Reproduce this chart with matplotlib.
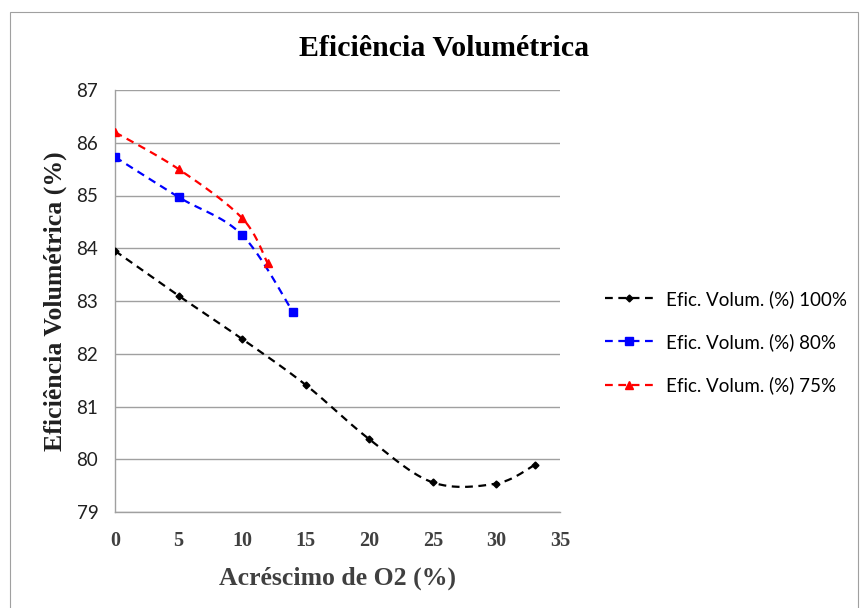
import numpy as np
import matplotlib
matplotlib.use("Agg")
import matplotlib.pyplot as plt
from matplotlib.patches import Rectangle
from matplotlib.lines import Line2D

# O2 addition (%) and volumetric efficiency (%) for each load
x_100 = [0, 5, 10, 15, 20, 25, 30, 33]
y_100 = [83.95, 83.1, 82.28, 81.41, 80.38, 79.56, 79.54, 79.89]
x_80 = [0, 5, 10, 14]
y_80 = [85.73, 84.97, 84.25, 82.79]
x_75 = [0, 5, 10, 12]
y_75 = [86.2, 85.5, 84.57, 83.72]

labels = ["Efic. Volum. (%) 100%", "Efic. Volum. (%) 80%", "Efic. Volum. (%) 75%"]
colors = ["black", "#0000FF", "#FF0000"]
markers = ["D", "s", "^"]
msizes = [3.5, 6, 6]

x_ticks = [0, 5, 10, 15, 20, 25, 30, 35]
y_ticks = [79, 80, 81, 82, 83, 84, 85, 86, 87]


def smooth(xs, ys, n=30):
    """Bezier smoothing through the points (Catmull-Rom control points)."""
    p = np.column_stack([xs, ys]).astype(float)
    out = []
    for i in range(len(p) - 1):
        p0 = p[i - 1] if i > 0 else p[i]
        p1, p2 = p[i], p[i + 1]
        p3 = p[i + 2] if i + 2 < len(p) else p[i + 1]
        c1 = p1 + (p2 - p0) / 6.0
        c2 = p2 - (p3 - p1) / 6.0
        t = np.linspace(0, 1, n)[:, None]
        seg = ((1 - t) ** 3) * p1 + 3 * ((1 - t) ** 2) * t * c1 + 3 * (1 - t) * t ** 2 * c2 + t ** 3 * p2
        out.append(seg if i == 0 else seg[1:])
    s = np.vstack(out)
    return s[:, 0], s[:, 1]


fig = plt.figure(figsize=(8.67, 6.08), dpi=100)
fig.patches.append(Rectangle((10 / 867, -0.01), 848 / 867, 1 - 12 / 608 + 0.01,
                             transform=fig.transFigure, fill=False,
                             edgecolor="#A0A0A0", linewidth=0.8))

ax = fig.add_axes([115 / 867, 1 - 512 / 608, 445 / 867, 422 / 608])

series = [(x_100, y_100), (x_80, y_80), (x_75, y_75)]
handles = []
for (xs, ys), lab, c, m, ms in zip(series, labels, colors, markers, msizes):
    sx, sy = smooth(xs, ys)
    ax.plot(sx, sy, color=c, linestyle=(0, (3.5, 2.5)), linewidth=1.6, zorder=3)
    ax.plot(xs, ys, linestyle="none", marker=m, color=c, markersize=ms, zorder=4)
    handles.append(Line2D([], [], color=c, linestyle=(0, (3.5, 2.5)), linewidth=1.6,
                          marker=m, markersize=ms))

ax.set_xlim(0, 35)
ax.set_ylim(79, 87)
ax.set_xticks(x_ticks)
ax.set_yticks(y_ticks)
ax.yaxis.grid(True, color="#A0A0A0", linewidth=1.0)
ax.set_axisbelow(True)
for s in ["top", "right"]:
    ax.spines[s].set_visible(False)
for s in ["left", "bottom"]:
    ax.spines[s].set_color("#A0A0A0")
    ax.spines[s].set_linewidth(1.0)
ax.tick_params(axis="y", length=0, labelsize=13.5, pad=12, labelcolor="#202020")
ax.tick_params(axis="x", length=0, labelsize=14.5, pad=14)
for t in ax.get_yticklabels():
    t.set_fontfamily("Lato")
for t in ax.get_xticklabels():
    t.set_fontfamily("Liberation Serif")
    t.set_fontweight("bold")
    t.set_color("#404040")

ax.set_xlabel("Acréscimo de O2 (%)", fontfamily="Liberation Serif", fontweight="bold",
              fontsize=18.5, color="#404040", labelpad=11)
ax.set_ylabel("Eficiência Volumétrica (%)", fontfamily="Liberation Serif", fontweight="bold",
              fontsize=18.5, color="#202020", labelpad=7)

fig.text(444 / 867, 1 - 48 / 608, "Eficiência Volumétrica", ha="center", va="center",
         fontfamily="Liberation Serif", fontweight="bold", fontsize=21.5)

fig.legend(handles=handles, labels=labels, loc="center left",
           bbox_to_anchor=(588 / 867, 1 - 342 / 608), frameon=False,
           prop={"family": "Lato", "size": 13.5}, handlelength=2.6,
           labelspacing=1.35, handletextpad=0.65)

fig.savefig("out.png", dpi=100)
